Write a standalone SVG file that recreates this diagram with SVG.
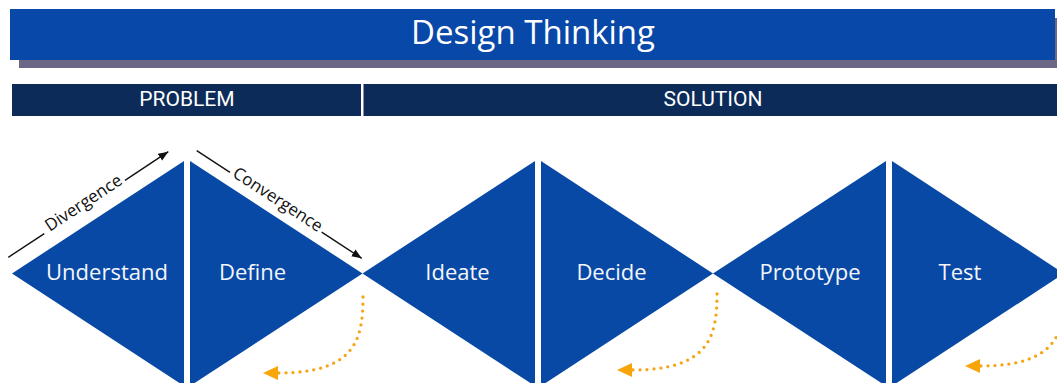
<svg xmlns="http://www.w3.org/2000/svg" width="1057" height="383" viewBox="0 0 1057 383">
  <style>
    .title { font-family: "Open Sans", "Liberation Sans", sans-serif; font-size: 33px; fill: #ffffff; text-anchor: middle; }
    .band { fill: #0c2b59; }
    .band-text { font-family: Roboto, "Liberation Sans", sans-serif; font-size: 21px; fill: #ffffff; text-anchor: middle; }
    .stage { fill: #0849a6; }
    .label { font-family: "Open Sans", "Liberation Sans", sans-serif; font-size: 22px; fill: #f4f6fa; text-anchor: middle; }
    .flow { fill: none; stroke: #111111; stroke-width: 1.4; }
    .flow-text { font-family: "Open Sans", "Liberation Sans", sans-serif; font-size: 17px; fill: #111111; text-anchor: middle; }
    .loop { fill: none; stroke: #f5a514; stroke-width: 3.3; stroke-linecap: round; stroke-dasharray: 0 7; }
  </style>
  <defs>
    <marker id="arrow-black" markerUnits="userSpaceOnUse" markerWidth="11" markerHeight="9" refX="10" refY="4" orient="auto">
      <path d="M0,0 L10,4 L0,8 z" fill="#111111"/>
    </marker>
    <marker id="arrow-orange" markerUnits="userSpaceOnUse" markerWidth="16" markerHeight="15" refX="0" refY="7" orient="auto">
      <path d="M0,0 L15,7 L0,14 z" fill="#f8a50a"/>
    </marker>
  </defs>

  <rect width="1057" height="383" fill="#ffffff"/>

  <!-- Title banner with offset shadow -->
  <g id="header">
    <rect x="19" y="18" width="1040" height="50" fill="#6b6886"/>
    <rect x="10" y="9" width="1045" height="51" fill="#0848a8"/>
    <text class="title" x="533" y="43.5">Design Thinking</text>
  </g>

  <!-- Phase band -->
  <g id="phases">
    <rect class="band" x="12" y="84" width="349" height="32"/>
    <rect class="band" x="363.5" y="84" width="694" height="32"/>
    <text class="band-text" x="187" y="105.5">PROBLEM</text>
    <text class="band-text" x="713" y="105.5">SOLUTION</text>
  </g>

  <!-- Stages -->
  <g id="understand">
    <polygon class="stage" points="12,273.5 184,161 184,386"/>
    <text class="label" x="107" y="280">Understand</text>
  </g>
  <g id="define">
    <polygon class="stage" points="190,161 190,386 362.5,273.5"/>
    <text class="label" x="252.5" y="280">Define</text>
  </g>
  <g id="ideate">
    <polygon class="stage" points="362.5,273.5 535,161 535,386"/>
    <text class="label" x="457.5" y="280">Ideate</text>
  </g>
  <g id="decide">
    <polygon class="stage" points="541,161 541,386 713,273.5"/>
    <text class="label" x="611.5" y="280">Decide</text>
  </g>
  <g id="prototype">
    <polygon class="stage" points="713,273.5 886,161 886,386"/>
    <text class="label" x="810" y="280">Prototype</text>
  </g>
  <g id="test">
    <polygon class="stage" points="892,161 892,386 1064,273.5"/>
    <text class="label" x="960" y="280">Test</text>
  </g>

  <!-- Connectors -->
  <g id="connectors">
    <line class="flow" x1="8.3" y1="257.3" x2="44.3" y2="233.6"/>
    <line class="flow" x1="125" y1="180.3" x2="168.3" y2="151.7" marker-end="url(#arrow-black)"/>
    <text class="flow-text" transform="translate(85.5,206) rotate(-33.4)" x="0" y="2">Divergence</text>

    <line class="flow" x1="196.7" y1="150.7" x2="230" y2="172.4"/>
    <line class="flow" x1="321.7" y1="232.2" x2="361.7" y2="258.3" marker-end="url(#arrow-black)"/>
    <text class="flow-text" transform="translate(275.9,202.5) rotate(33.1)" x="0" y="2">Convergence</text>

    <path class="loop" d="M363,297 C363,340 355,373 278,373" marker-end="url(#arrow-orange)"/>
    <path class="loop" d="M717,294 C717,337 709,370 632,370" marker-end="url(#arrow-orange)"/>
    <path class="loop" d="M1065,290 C1065,333 1057,366 980,366" marker-end="url(#arrow-orange)"/>
  </g>
</svg>
